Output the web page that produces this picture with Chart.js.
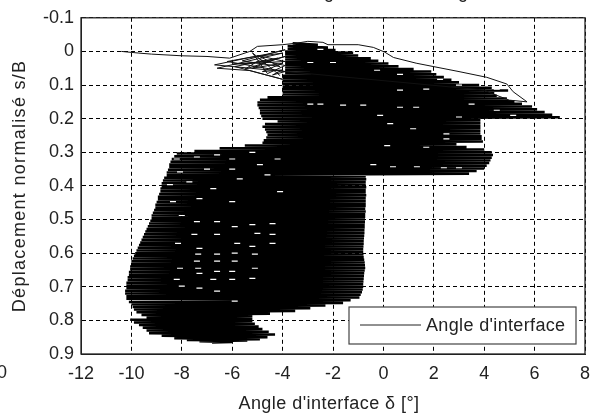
<!DOCTYPE html>
<html>
<head>
<meta charset="utf-8">
<style>
html, body { margin: 0; padding: 0; background: #fff; }
canvas { display: block; }
</style>
<script src="https://cdn.jsdelivr.net/npm/chart.js@4"></script>
</head>
<body>
<canvas id="interfaceChart" width="605" height="415"></canvas>
<script>
const seriesLabel = "Angle d'interface";
const xTitle = "Angle d'interface δ [°]";
const yTitle = 'Déplacement normalisé s/B';

// start of the test and the thin loops around the black area
const outlineAngle = [
    -10.4, -9.7, -9.2, -8, -7, -6.1, -5.3, -5, -4, -3.4,
    -3, -2.4, -2.2, -1, -0.4, 0.05, 0.4, 1.3, 3, 4.1,
    4.9, 5.15, 5.7, 5, 4.3, 4, -6.7, -5.3, -4, -6.6,
    -5.3, -4, -5.9, -4.2, -5.2, -4, -4.8, -4, -4.4, -3.9,
    -6.2, -4.6, -3.9, -5.6, -4.1, -5, -3.9, -6, -4.7, -3.9,
    -5.5, -4.9, -3.9, -4.6, -5.2, -4.1
];
const outlineDisp = [
    0, 0.005, 0.008, 0.013, 0.015, 0.02, 0, -0.015, -0.02, -0.025,
    -0.03, -0.027, -0.02, -0.02, -0.012, 0.002, 0.018, 0.035, 0.06, 0.077,
    0.097, 0.12, 0.15, 0.145, 0.125, 0.115, 0.04, 0.018, 0.005, 0.05,
    0.057, 0.083, 0.045, 0.02, 0.05, 0.035, 0.06, 0.055, 0.07, 0.06,
    0.03, 0.008, -0.005, 0.028, 0.045, 0.012, 0.03, 0.038, 0.03, 0.015,
    0.053, 0.025, 0.042, 0.066, 0.004, 0.072
];

// cyclic part, read row by row from the edges of the black area
const massAngle = [
    -3.6, -2.6, -3.8, -2.2, -3.8, -1.9, -3.9, -1.2, -3.9, -1,
    -3.9, -0.5, -3.9, -0.2, -3.9, 0.2, -3.9, 0.6, -3.9, 1.2,
    -3.9, 1.9, -3.9, 2.1, -4, 2.4, -4, 2.7, -4, 3,
    -4, 3.8, -4, 4.3, -4, 4.95, -4, 4.4, -4, 4.5,
    -4.6, 4.9, -4.9, 5.2, -5, 5.5, -5, 5.9, -4.95, 6.1,
    -4.9, 6.4, -4.9, 6.7, -4.85, 7, -4.8, 3.85, -4.2, 3.85,
    -4.7, 3.85, -4.8, 3.85, -4.7, 3.85, -4.65, 3.85, -4.6, 3.9,
    -4.65, 3.9, -4.75, 3.95, -4.8, 2.9, -5.5, 3.3, -6.5, 4,
    -7.5, 4.3, -8.2, 4.35, -8.3, 4.3, -8.4, 4.25, -8.45, 4.2,
    -8.5, 4.1, -8.5, 4, -8.55, 3.7, -8.6, 3.4, -8.6, -0.7,
    -8.7, -0.68, -8.75, -0.7, -8.8, -0.7, -8.8, -0.68, -8.85, -0.7,
    -8.85, -0.7, -8.9, -0.68, -8.95, -0.7, -8.95, -0.7, -9, -0.7,
    -9.05, -0.7, -9.05, -0.72, -9.1, -0.7, -9.15, -0.72, -9.2, -0.72,
    -9.2, -0.73, -9.25, -0.73, -9.3, -0.74, -9.35, -0.74, -9.4, -0.75,
    -9.45, -0.75, -9.5, -0.76, -9.55, -0.77, -9.6, -0.78, -9.65, -0.78,
    -9.7, -0.79, -9.75, -0.8, -9.8, -0.8, -9.85, -0.79, -9.9, -0.78,
    -9.95, -0.76, -10, -0.74, -10, -0.73, -10.05, -0.72, -10.05, -0.74,
    -10.1, -0.76, -10.1, -0.77, -10.15, -0.78, -10.15, -0.79, -10.2, -0.8,
    -10.2, -0.8, -10.2, -0.82, -10.25, -0.85, -10.25, -0.9, -10.2, -0.95,
    -10.2, -1.3, -10.1, -1.6, -10, -2.3, -9.95, -2.9, -9.9, -3.5,
    -9.8, -4.5, -9.6, -5.2, -9.4, -5.2, -10.05, -5.2, -9.9, -5.1,
    -9.7, -4.95, -9.55, -4.8, -9.4, -4.55, -9.3, -4.3, -8.8, -4.6,
    -8.3, -4.9, -7.8, -5.4, -7.3, -6, -6.8
];
const massDisp = [
    -0.024, -0.02, -0.016, -0.012, -0.008, -0.004, 0, 0.004, 0.008, 0.012,
    0.016, 0.02, 0.024, 0.028, 0.032, 0.036, 0.04, 0.044, 0.048, 0.052,
    0.056, 0.06, 0.064, 0.068, 0.072, 0.076, 0.08, 0.084, 0.088, 0.092,
    0.096, 0.1, 0.104, 0.108, 0.112, 0.116, 0.12, 0.124, 0.128, 0.132,
    0.136, 0.14, 0.144, 0.148, 0.152, 0.156, 0.16, 0.164, 0.168, 0.172,
    0.176, 0.18, 0.184, 0.188, 0.192, 0.196, 0.2, 0.204, 0.208, 0.212,
    0.216, 0.22, 0.224, 0.228, 0.232, 0.236, 0.24, 0.244, 0.248, 0.252,
    0.256, 0.26, 0.264, 0.268, 0.272, 0.276, 0.28, 0.284, 0.288, 0.292,
    0.296, 0.3, 0.304, 0.308, 0.312, 0.316, 0.32, 0.324, 0.328, 0.332,
    0.336, 0.34, 0.344, 0.348, 0.352, 0.356, 0.36, 0.364, 0.368, 0.372,
    0.376, 0.38, 0.384, 0.388, 0.392, 0.396, 0.4, 0.404, 0.408, 0.412,
    0.416, 0.42, 0.424, 0.428, 0.432, 0.436, 0.44, 0.444, 0.448, 0.452,
    0.456, 0.46, 0.464, 0.468, 0.472, 0.476, 0.48, 0.484, 0.488, 0.492,
    0.496, 0.5, 0.504, 0.508, 0.512, 0.516, 0.52, 0.524, 0.528, 0.532,
    0.536, 0.54, 0.544, 0.548, 0.552, 0.556, 0.56, 0.564, 0.568, 0.572,
    0.576, 0.58, 0.584, 0.588, 0.592, 0.596, 0.6, 0.604, 0.608, 0.612,
    0.616, 0.62, 0.624, 0.628, 0.632, 0.636, 0.64, 0.644, 0.648, 0.652,
    0.656, 0.66, 0.664, 0.668, 0.672, 0.676, 0.68, 0.684, 0.688, 0.692,
    0.696, 0.7, 0.704, 0.708, 0.712, 0.716, 0.72, 0.724, 0.728, 0.732,
    0.736, 0.74, 0.745, 0.748, 0.752, 0.756, 0.76, 0.764, 0.768, 0.772,
    0.776, 0.78, 0.784, 0.788, 0.792, 0.796, 0.798, 0.802, 0.806, 0.81,
    0.814, 0.818, 0.822, 0.826, 0.83, 0.834, 0.838, 0.842, 0.846, 0.85,
    0.853, 0.856, 0.858, 0.86, 0.862, 0.864, 0.866
];

// white gaps left between the cycle traces, painted over the black area
const gapAngle = [
    -7.35, -7.4, -8.07, -8.2, -7.35, -7.3, -6.6, -6.6, -6.75, -5.9,
    -5.9, -6, -6, -5.9, -5.1, -5.1, -5.2, -4.4, -4.4, -4.4,
    -5.2, -5, -7.4, -7.5, -8.15, -6.6, -8, -6.6, -7.3, -8,
    -6.6, -5.9, -6.6, -5.8, -5.2, -7.3,
    -2.5, -2, -2.9, -0.25, 0.66, 2.25, 0.66, 1.7, 3, 4.5,
    -0.8, 0.66, 1.3, 3.5, 4.5, 5.15, 3, 1.18, 2.5, 0.27,
    -0.13, 2.5, 3.7, 1.7, 0.15, 1.33, 0.38, 2.4, 3, -0.4,
    -2.9, -2.5, -1.6,
    -8.2, -7.4, -6.6, -6, -5.2, -4.2, -8.07, -7, -6, -4.9,
    -8.47, -7.7, -6.75, -5.7, -4.6, -8.35, -7.3, -6, -4.1
];
const gapDisp = [
    0.603, 0.624, 0.645, 0.678, 0.645, 0.66, 0.624, 0.654, 0.678, 0.6,
    0.624, 0.654, 0.678, 0.743, 0.603, 0.645, 0.675, 0.512, 0.544, 0.571,
    0.515, 0.541, 0.506, 0.544, 0.571, 0.603, 0.698, 0.713, 0.704, 0.488,
    0.506, 0.521, 0.544, 0.571, 0.58, 0.586,
    -0.006, 0.033, 0.033, 0.056, 0.068, 0.083, 0.115, 0.112, 0.1, 0.112,
    0.16, 0.166, 0.166, 0.157, 0.175, 0.19, 0.195, 0.23, 0.245, 0.215,
    0.19, 0.26, 0.275, 0.285, 0.28, 0.343, 0.343, 0.346, 0.346, 0.337,
    0.157, 0.157, 0.16,
    0.32, 0.314, 0.308, 0.32, 0.3, 0.32, 0.358, 0.35, 0.35, 0.337,
    0.396, 0.388, 0.408, 0.379, 0.367, 0.447, 0.438, 0.447, 0.417
];

const toPoints = (xs, ys) => xs.map((x, i) => ({ x: x, y: ys[i] }));

// the axis titles are spaced out a bit in the original
function spaceTitle(scale, spacing, shift) {
    if (scale.spaced) return;
    scale.spaced = true;
    const drawTitle = scale.drawTitle;
    scale.drawTitle = function () {
        this.ctx.save();
        this.ctx.letterSpacing = spacing;
        this.ctx.translate(shift, 0);
        drawTitle.call(this);
        this.ctx.restore();
    };
}

// legend box, frame and the bits of neighbouring text cut by the image edge
const framePlugin = {
    id: 'frame',
    afterDatasetsDraw(chart) {
        const { ctx, chartArea: a } = chart;
        ctx.save();
        ctx.strokeStyle = '#222';
        ctx.lineWidth = 1.3;
        ctx.strokeRect(a.left, a.top, a.right - a.left, a.bottom - a.top);

        ctx.fillStyle = '#fff';
        ctx.fillRect(349, 307, 227, 37);
        ctx.strokeStyle = '#444';
        ctx.lineWidth = 1.2;
        ctx.strokeRect(349, 307, 227, 37);
        ctx.strokeStyle = '#222';
        ctx.lineWidth = 1;
        ctx.beginPath();
        ctx.moveTo(360, 325);
        ctx.lineTo(421, 325);
        ctx.stroke();

        ctx.fillStyle = '#222';
        ctx.font = '18px "Liberation Sans"';
        ctx.letterSpacing = '0.35px';
        ctx.textBaseline = 'middle';
        ctx.textAlign = 'left';
        ctx.fillText(seriesLabel, 426, 326);
        ctx.letterSpacing = '0px';

        ctx.textAlign = 'center';
        ctx.textBaseline = 'alphabetic';
        ctx.fillText('g', 329, -2);
        ctx.fillText('g', 463, -2);
        ctx.textAlign = 'right';
        ctx.fillText('0', 7, 378);
        ctx.restore();
    }
};

new Chart(document.getElementById('interfaceChart'), {
    type: 'scatter',
    data: {
        datasets: [
            {
                label: 'gaps',
                data: toPoints(gapAngle, gapDisp),
                order: -1,
                pointStyle: 'line',
                pointRadius: 3,
                pointBorderWidth: 1.2,
                pointBorderColor: '#fff'
            },
            {
                label: seriesLabel,
                data: toPoints(outlineAngle, outlineDisp),
                showLine: true,
                borderColor: '#111',
                borderWidth: 1,
                pointRadius: 0
            },
            {
                label: seriesLabel,
                data: toPoints(massAngle, massDisp),
                showLine: true,
                borderColor: '#000',
                borderWidth: 2.5,
                borderJoinStyle: 'bevel',
                pointRadius: 0
            }
        ]
    },
    options: {
        responsive: false,
        animation: false,
        layout: { padding: { top: 16, right: 20 } },
        plugins: {
            legend: { display: false },
            title: { display: false },
            tooltip: { enabled: false }
        },
        scales: {
            x: {
                type: 'linear',
                min: -12,
                max: 8,
                afterFit: (scale) => { scale.height = 61; spaceTitle(scale, '0.45px', -4); },
                ticks: {
                    stepSize: 2,
                    maxRotation: 0,
                    padding: 9,
                    color: '#222',
                    font: { family: 'Liberation Sans', size: 18 }
                },
                grid: { color: '#000', lineWidth: 1, drawTicks: false },
                border: { dash: [4, 3], color: '#222' },
                title: {
                    display: true,
                    text: xTitle,
                    color: '#222',
                    padding: { top: 1, bottom: 0 },
                    font: { family: 'Liberation Sans', size: 18 }
                }
            },
            y: {
                type: 'linear',
                reverse: true,
                min: -0.1,
                max: 0.9,
                afterFit: (scale) => { scale.width = 81; spaceTitle(scale, '1.3px', 0); },
                ticks: {
                    stepSize: 0.1,
                    padding: 7,
                    color: '#222',
                    font: { family: 'Liberation Sans', size: 18 },
                    callback: (v) => String(Math.round(v * 10) / 10)
                },
                grid: { color: '#000', lineWidth: 1, drawTicks: false },
                border: { dash: [4, 3], color: '#222' },
                title: {
                    display: true,
                    text: yTitle,
                    color: '#222',
                    padding: { top: 9, bottom: 0 },
                    font: { family: 'Liberation Sans', size: 18 }
                }
            }
        }
    },
    plugins: [framePlugin]
});
</script>
</body>
</html>
